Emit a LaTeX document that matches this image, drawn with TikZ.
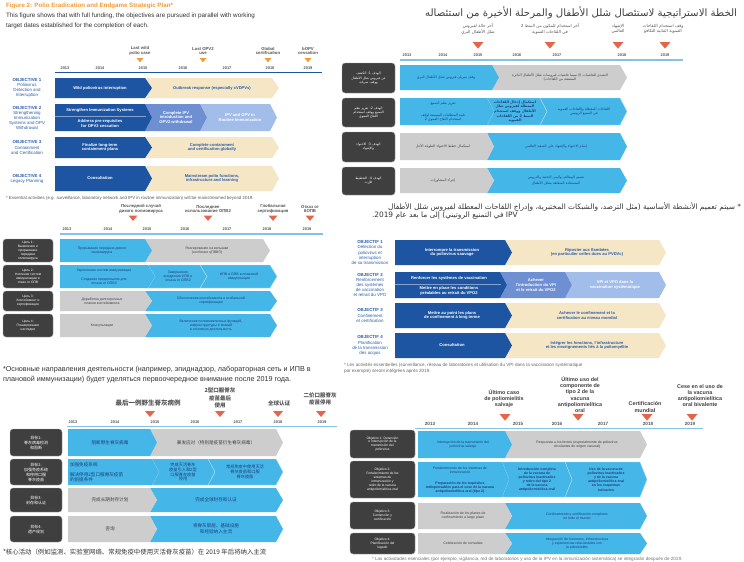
\documentclass[tikz,border=0pt]{standalone}
\usepackage{fontspec}
\setmainfont{Liberation Sans}
\newfontfamily\arabicfont[Script=Arabic]{DejaVu Sans}
\newfontfamily\cjk{Noto Sans CJK SC}
\TeXXeTstate=1
\newcommand\artx[1]{{\arabicfont\beginR #1\endR}}
\definecolor{darkB}{HTML}{1D55A3}
\definecolor{midB}{HTML}{6E90D2}
\definecolor{lightB}{HTML}{A3BDEA}
\definecolor{beige}{HTML}{F5E7C6}
\definecolor{cyanB}{HTML}{45B6E8}
\definecolor{greyB}{HTML}{CDCDCD}
\definecolor{boxD}{HTML}{3F3F3F}
\definecolor{orangeT}{HTML}{F29A35}
\definecolor{redT}{HTML}{E6644A}
\definecolor{txtB}{HTML}{2B5CA8}
\definecolor{lineB}{HTML}{86C1E8}
\definecolor{navyT}{HTML}{1E3F78}
\definecolor{greyT}{HTML}{555555}
\newcommand\tipd{7}
\newcommand\segA[5]{\fill[#5] (#1,#3) -- (#2,#3) -- ({#2+\tipd},{(#3+#4)/2}) -- (#2,#4) -- (#1,#4) -- cycle;}
\newcommand\segB[5]{\fill[#5] (#1,#3) -- (#2,#3) -- ({#2+\tipd},{(#3+#4)/2}) -- (#2,#4) -- (#1,#4) -- ({#1+\tipd},{(#3+#4)/2}) -- cycle;}
\newcommand\tri[4]{\fill[#4] ({#1-#3/2},#2) -- ({#1+#3/2},#2) -- (#1,{#2+#3*0.6}) -- cycle;}
\tikzset{
 every node/.style={inner sep=0pt, outer sep=0pt},
 ms/.style={align=center, font=\fontsize{4.3}{4.9}\selectfont\bfseries, text=greyT},
 yr/.style={font=\fontsize{3.9}{4}\selectfont\bfseries, text=greyT},
 wt/.style={align=center, text=white, font=\fontsize{4.1}{4.8}\selectfont\bfseries},
 bt/.style={align=center, text=txtB, font=\fontsize{4.1}{4.8}\selectfont\bfseries},
 nt/.style={align=center, text=navyT, font=\fontsize{3.5}{4.1}\selectfont},
 gt/.style={align=center, text=black!75, font=\fontsize{3.5}{4.1}\selectfont},
 lbl/.style={align=center, text=txtB, font=\fontsize{4.4}{5.1}\selectfont},
 bx/.style={fill=boxD, draw=black!35, line width=0.4, rounded corners=3},
 bxt/.style={align=center, text=white, font=\fontsize{3.3}{3.9}\selectfont},
 sepl/.style={line width=0.4},
}
\begin{document}
\begin{tikzpicture}[x=1pt,y=-1pt]
\useasboundingbox (0,0) rectangle (744,562);
\fill[white] (0,0) rectangle (744,562);

%================ ENGLISH (top left) ================
\begin{scope}
\clip (0,0) rectangle (338,202);
\node[anchor=west, text=orangeT, font=\fontsize{6.2}{7}\selectfont\bfseries] (en-title) at (6,6) {Figure 2: Polio Eradication and Endgame Strategic Plan*};
\node[anchor=north west, align=left, font=\fontsize{6.3}{9.5}\selectfont, text=black!80] (en-desc) at (6,13) {This figure shows that with full funding, the objectives are pursued in parallel with working\\target dates established for the completion of each.};
\node[ms] (en-m1) at (140,51) {Last wild\\polio case};
\node[ms] (en-m2) at (203,51) {Last OPV2\\use};
\node[ms] (en-m3) at (268,51) {Global\\certification};
\node[ms] (en-m4) at (308,51) {bOPV\\cessation};
\tri{140}{58}{7}{orangeT}
\tri{203}{58}{7}{orangeT}
\tri{268}{58}{7}{orangeT}
\tri{308}{58}{7}{orangeT}
\foreach \xx/\yy in {65/2013,100/2014,143/2015,183/2016,227/2017,270/2018,308/2019}
  \node[yr] (en-y\yy) at (\xx,68) {\yy};
\draw[darkB, line width=0.8] (55,72.5) -- (322,72.5);
% row 1
\segB{145}{272}{78}{98}{beige}
\segA{55}{145}{78}{98}{darkB}
\node[lbl] (en-l1) at (27,88) {\textbf{OBJECTIVE 1}\\Poliovirus\\Detection and\\Interruption};
\node[wt] (en-r1a) at (100,88) {Wild poliovirus interruption};
\node[bt] (en-r1b) at (212,88) {Outbreak response (especially cVDPVs)};
% row 2
\segB{200}{270}{104}{131}{lightB}
\segB{145}{200}{104}{131}{midB}
\segA{55}{145}{104}{131}{darkB}
\draw[sepl, white!45!darkB] (55,116.5) -- (146,116.5);
\node[lbl] (en-l2) at (27,118) {\textbf{OBJECTIVE 2}\\Strengthening\\Immunization\\Systems and OPV\\Withdrawal};
\node[wt] (en-r2a) at (100,110.5) {Strengthen Immunization Systems};
\node[wt] (en-r2b) at (100,123.8) {Address pre-requisites\\for OPV2 cessation};
\node[wt] (en-r2c) at (176,117.5) {Complete IPV\\introduction and\\OPV2 withdrawal};
\node[wt] (en-r2d) at (240,117.5) {IPV and OPV in\\Routine Immunization};
% row 3
\segB{145}{272}{137}{158}{beige}
\segA{55}{145}{137}{158}{darkB}
\node[lbl] (en-l3) at (27,147.5) {\textbf{OBJECTIVE 3}\\Containment\\and Certification};
\node[wt] (en-r3a) at (100,147.5) {Finalize long-term\\containment plans};
\node[bt] (en-r3b) at (212,147.5) {Complete containment\\and certification globally};
% row 4
\segB{145}{272}{166}{191}{beige}
\segA{55}{145}{166}{191}{darkB}
\node[lbl] (en-l4) at (27,178.5) {\textbf{OBJECTIVE 4}\\Legacy Planning};
\node[wt] (en-r4a) at (100,178.5) {Consultation};
\node[bt] (en-r4b) at (212,178.5) {Mainstream polio functions,\\infrastructure and learning};
\node[anchor=west, font=\fontsize{4.4}{5}\selectfont, text=black!65] (en-foot) at (6,198) {* Essential activities (e.g. surveillance, laboratory network and IPV in routine immunization) will be mainstreamed beyond 2019.};
\end{scope}

%================ ARABIC (top right) ================
\begin{scope}
\clip (338,0) rectangle (744,221);
\node[anchor=east, font=\fontsize{10.2}{11}\selectfont, text=black!75] (ar-title) at (737,13) {\artx{الخطة الاستراتيجية لاستئصال شلل الأطفال والمرحلة الأخيرة من استئصاله}};
\node[ms, font=\fontsize{4.2}{5.2}\selectfont] (ar-m1) at (478,29) {\artx{آخر حالة لفيروس}\\\artx{شلل الأطفال البري}};
\node[ms, font=\fontsize{4.2}{5.2}\selectfont] (ar-m2) at (550,29) {\artx{آخر استخدام للمكون من النمط 2}\\\artx{في اللقاحات الفموية}};
\node[ms, font=\fontsize{4.2}{5.2}\selectfont] (ar-m3) at (618,29) {\artx{الإشهاد}\\\artx{العالمي}};
\node[ms, font=\fontsize{4.2}{5.2}\selectfont] (ar-m4) at (663,29) {\artx{وقف استخدام اللقاحات}\\\artx{الفموية الثنائية التكافؤ}};
\tri{478}{42}{11}{redT}
\tri{550}{42}{11}{redT}
\tri{618}{42}{11}{redT}
\tri{665}{42}{11}{redT}
\foreach \xx/\yy in {407/2013,443/2014,478/2015,517/2016,557/2017,622/2018,665/2019}
  \node[yr] (ar-y\yy) at (\xx,55) {\yy};
\draw[lineB, line width=1.5] (400,60) -- (683,60);
% boxes
\fill[bx] (342,63) rectangle (395,93);
\fill[bx] (342,98) rectangle (395,127);
\fill[bx] (342,132) rectangle (395,162);
\fill[bx] (342,167) rectangle (395,195);
\node[bxt] (ar-l1) at (368.5,78) {\artx{الهدف 1: الكشف}\\\artx{عن فيروس شلل الأطفال}\\\artx{ووقف سريانه}};
\node[bxt] (ar-l2) at (368.5,112.5) {\artx{الهدف 2: تعزيز نظم}\\\artx{التمنيع ووقف استخدام}\\\artx{اللقاح الفموي}};
\node[bxt] (ar-l3) at (368.5,147) {\artx{الهدف 3: الاحتواء}\\\artx{والإشهاد}};
\node[bxt] (ar-l4) at (368.5,181) {\artx{الهدف 4: التخطيط}\\\artx{للإرث}};
% row 1
\segB{492}{620}{65}{90}{greyB}
\segA{400}{492}{65}{90}{cyanB}
\node[nt] (ar-r1a) at (446,77.5) {\artx{وقف سريان فيروس شلل الأطفال البري}};
\node[gt] (ar-r1b) at (560,77.5) {\artx{التصدي للفاشيات (لا سيما فاشيات فيروسات شلل الأطفال الدائرة}\\\artx{المشتقة من اللقاحات)}};
% row 2
\segB{540}{620}{98}{125}{cyanB, draw=white!55!cyanB, sepl}
\segB{487}{540}{98}{125}{cyanB, draw=white!55!cyanB, sepl}
\segA{400}{487}{98}{125}{cyanB}
\node[nt] (ar-r2a) at (443,104) {\artx{تعزيز نظم التمنيع}};
\node[nt] (ar-r2b) at (443,118) {\artx{تلبية المتطلبات المسبقة لوقف}\\\artx{استخدام اللقاح الفموي 2}};
\node[nt, font=\fontsize{3.5}{4.1}\selectfont\bfseries] (ar-r2c) at (515,111.5) {\artx{استكمال إدخال اللقاحات}\\\artx{المعطلة لفيروس شلل}\\\artx{الأطفال ووقف استخدام}\\\artx{النمط 2 من اللقاحات}\\\artx{الفموية}};
\node[nt] (ar-r2d) at (584,111.5) {\artx{اللقاحات المعطلة واللقاحات الفموية}\\\artx{في التمنيع الروتيني}};
% row 3
\segB{487}{620}{133}{160}{cyanB}
\segA{400}{487}{133}{160}{greyB}
\node[gt] (ar-r3a) at (443,146.5) {\artx{استكمال خطط الاحتواء الطويلة الأجل}};
\node[nt] (ar-r3b) at (556,146.5) {\artx{إتمام الاحتواء والإشهاد على الصعيد العالمي}};
% row 4
\segB{487}{620}{168}{193}{cyanB}
\segA{400}{487}{168}{193}{greyB}
\node[gt] (ar-r4a) at (443,180.5) {\artx{إجراء المشاورات}};
\node[nt] (ar-r4b) at (556,180.5) {\artx{تعميم الوظائف والبنى التحتية والدروس}\\\artx{المستفادة المتعلقة بشلل الأطفال}};
\node[anchor=east, font=\fontsize{7.4}{8}\selectfont, text=black!80] (ar-foot1) at (741,207) {\artx{* سيتم تعميم الأنشطة الأساسية (مثل الترصد، والشبكات المختبرية، وإدراج اللقاحات المعطلة لفيروس شلل الأطفال}};
\node[anchor=west, font=\fontsize{7.4}{8}\selectfont, text=black!80] (ar-foot2) at (372,216) {\artx{\beginL IPV\endL{} في التمنيع الروتيني) إلى ما بعد عام 2019.}};
\end{scope}

%================ RUSSIAN (middle left) ================
\begin{scope}
\clip (0,202) rectangle (344,383);
\node[ms] (ru-m1) at (141,209) {Последний случай\\дикого полиовируса};
\node[ms] (ru-m2) at (208,209) {Последнее\\использование ОПВ2};
\node[ms] (ru-m3) at (273,209) {Глобальная\\сертификация};
\node[ms] (ru-m4) at (310,209) {Отказ от\\бОПВ};
\tri{133}{215.5}{9}{redT}
\tri{208}{215.5}{9}{redT}
\tri{273}{215.5}{9}{redT}
\tri{310}{215.5}{9}{redT}
\foreach \xx/\yy in {67/2013,108/2014,147/2015,185/2016,227/2017,267/2018,307/2019}
  \node[yr] (ru-y\yy) at (\xx,229) {\yy};
\draw[lineB, line width=1.2] (60,234) -- (323,234);
\fill[bx] (3,239) rectangle (53,262);
\fill[bx] (3,265) rectangle (53,288);
\fill[bx] (3,291) rectangle (53,311);
\fill[bx] (3,314) rectangle (53,337);
\node[bxt] (ru-l1) at (28,250.5) {Цель 1:\\Выявление и\\прерывание\\передачи\\полиовируса};
\node[bxt] (ru-l2) at (28,276.5) {Цель 2:\\Усиление систем\\иммунизации и\\отказ от ОПВ};
\node[bxt] (ru-l3) at (28,301) {Цель 3:\\Контейнмент и\\сертификация};
\node[bxt] (ru-l4) at (28,325.5) {Цель 4:\\Планирование\\наследия};
% row 1
\segB{145}{263}{239}{262}{greyB}
\segA{60}{145}{239}{262}{cyanB}
\node[nt] (ru-r1a) at (102,250.5) {Прерывание передачи дикого\\полиовируса};
\node[gt] (ru-r1b) at (207,250.5) {Реагирование на вспышки\\(особенно цПВВП)};
% row 2
\segB{200}{270}{265}{288}{cyanB, draw=white!55!cyanB, sepl}
\segB{148}{200}{265}{288}{cyanB, draw=white!55!cyanB, sepl}
\segA{60}{148}{265}{288}{cyanB}
\node[nt] (ru-r2a) at (104,270.5) {Укрепление систем иммунизации};
\node[nt] (ru-r2b) at (104,281.5) {Создание предпосылок для\\отказа от ОПВ2};
\node[nt] (ru-r2c) at (178,276.5) {Завершение\\внедрения ИПВ и\\отказа от ОПВ2};
\node[nt] (ru-r2d) at (239,276.5) {ИПВ и ОПВ в плановой\\иммунизации};
% row 3
\segB{145}{270}{291}{311}{cyanB}
\segA{60}{145}{291}{311}{greyB}
\node[gt] (ru-r3a) at (102,301) {Доработка долгосрочных\\планов контейнмента};
\node[nt] (ru-r3b) at (211,301) {Обеспечение контейнмента и глобальной\\сертификации};
% row 4
\segB{145}{270}{314}{337}{cyanB}
\segA{60}{145}{314}{337}{greyB}
\node[gt] (ru-r4a) at (102,325.5) {Консультации};
\node[nt] (ru-r4b) at (211,325.5) {Включение полиомиелитных функций,\\инфраструктуры и знаний\\в основную деятельность};
\node[anchor=west, font=\fontsize{7.2}{8}\selectfont, text=black!80] (ru-foot1) at (3,370) {*Основные направления деятельности (например, эпиднадзор, лабораторная сеть и ИПВ в};
\node[anchor=west, font=\fontsize{7.2}{8}\selectfont, text=black!80] (ru-foot2) at (3,379.5) {плановой иммунизации) будет уделяться первоочередное внимание после 2019 года.};
\end{scope}

%================ FRENCH (middle right) ================
\begin{scope}
\clip (338,232) rectangle (744,376);
\node[lbl] (fr-l1) at (370,252.5) {\textbf{OBJECTIF 1}\\Détection du\\poliovirus et\\interruption\\de sa transmission};
\node[lbl] (fr-l2) at (370,285) {\textbf{OBJECTIF 2}\\Renforcement\\des systèmes\\de vaccination\\et retrait du VPO};
\node[lbl] (fr-l3) at (370,315.5) {\textbf{OBJECTIF 3}\\Confinement\\et certification};
\node[lbl] (fr-l4) at (370,345.5) {\textbf{OBJECTIF 4}\\Planification\\de la transmission\\des acquis};
% row 1
\segB{505}{659}{240}{265}{beige}
\segA{395}{505}{240}{265}{darkB}
\node[wt] (fr-r1a) at (452,252.5) {Interrompre la transmission\\du poliovirus sauvage};
\node[bt] (fr-r1b) at (587,252.5) {Riposter aux flambées\\(en particulier celles dues au PVDVc)};
% row 2
\segB{565}{659}{272}{298}{lightB}
\segB{500}{565}{272}{298}{midB}
\segA{395}{500}{272}{298}{darkB}
\draw[sepl, white!45!darkB] (395,284) -- (501,284);
\node[wt] (fr-r2a) at (449,278) {Renforcer les systèmes de vaccination};
\node[wt] (fr-r2b) at (449,290.8) {Mettre en place les conditions\\préalables au retrait du VPO2};
\node[wt] (fr-r2c) at (536,285) {Achever\\l'introduction du VPI\\et le retrait du VPO2};
\node[wt] (fr-r2d) at (615,285) {VPI et VPO dans la\\vaccination systématique};
% row 3
\segB{505}{659}{303}{328}{beige}
\segA{395}{505}{303}{328}{darkB}
\node[wt] (fr-r3a) at (452,315.5) {Mettre au point les plans\\de confinement à long terme};
\node[bt] (fr-r3b) at (587,315.5) {Achever le confinement et la\\certification au niveau mondial};
% row 4
\segB{505}{659}{333}{358}{beige}
\segA{395}{505}{333}{358}{darkB}
\node[wt] (fr-r4a) at (452,345.5) {Consultation};
\node[bt] (fr-r4b) at (587,345.5) {Intégrer les fonctions, l'infrastructure\\et les enseignements liés à la poliomyélite};
\node[anchor=west, font=\fontsize{4.6}{5}\selectfont, text=black!60] (fr-foot1) at (344,365) {* Les activités essentielles (surveillance, réseau de laboratoires et utilisation du VPI dans la vaccination systématique};
\node[anchor=west, font=\fontsize{4.6}{5}\selectfont, text=black!60] (fr-foot2) at (344,371.5) {par exemple) seront intégrées après 2019.};
\end{scope}

%================ CHINESE (bottom left) ================
\begin{scope}
\clip (0,383) rectangle (348,562);
\node[ms, font=\cjk\fontsize{6.5}{7}\selectfont\bfseries] (zh-m1) at (148,403) {最后一例野生脊灰病例};
\node[ms, font=\cjk\fontsize{5.5}{7.2}\selectfont\bfseries] (zh-m2) at (220,398) {2型口服脊灰\\疫苗最后\\使用};
\node[ms, font=\cjk\fontsize{5.5}{7}\selectfont\bfseries] (zh-m3) at (279,403) {全球认证};
\node[ms, font=\cjk\fontsize{5.5}{7}\selectfont\bfseries] (zh-m4) at (320,399) {二价口服脊灰\\疫苗停用};
\tri{150}{411}{10}{redT}
\tri{220}{411}{10}{redT}
\tri{278}{411}{10}{redT}
\tri{321}{411}{10}{redT}
\foreach \xx/\yy in {73/2013,115/2014,155/2015,195/2016,238/2017,278/2018,322/2019}
  \node[yr] (zh-y\yy) at (\xx,422) {\yy};
\draw[lineB, line width=1.3] (67,426.5) -- (337,426.5);
\fill[bx] (10,429) rectangle (62,456);
\fill[bx] (10,459) rectangle (62,485);
\fill[bx] (10,488) rectangle (62,512);
\fill[bx] (10,516) rectangle (62,542);
\node[bxt, font=\cjk\fontsize{4}{5}\selectfont] (zh-l1) at (36,442.5) {目标1:\\脊灰病毒检测\\和阻断};
\node[bxt, font=\cjk\fontsize{4}{5}\selectfont] (zh-l2) at (36,472) {目标2:\\加强免疫系统\\和停用口服\\脊灰疫苗};
\node[bxt, font=\cjk\fontsize{4}{5}\selectfont] (zh-l3) at (36,500) {目标3:\\封存和认证};
\node[bxt, font=\cjk\fontsize{4}{5}\selectfont] (zh-l4) at (36,529) {目标4:\\遗产规划};
% row 1
\segB{150}{276}{429}{456}{greyB}
\segA{68}{150}{429}{456}{cyanB}
\node[nt, font=\cjk\fontsize{4.6}{5.4}\selectfont] (zh-r1a) at (110,442.5) {阻断野生脊灰病毒};
\node[gt, font=\cjk\fontsize{4.6}{5.4}\selectfont] (zh-r1b) at (216,442.5) {暴发应对（特别是疫苗衍生脊灰病毒）};
% row 2
\segB{208}{276}{459}{485}{cyanB, draw=white!55!cyanB, sepl}
\segB{152}{208}{459}{485}{cyanB, draw=white!55!cyanB, sepl}
\segA{68}{152}{459}{485}{cyanB}
\node[nt, anchor=west, font=\cjk\fontsize{4.6}{5.4}\selectfont] (zh-r2a) at (70,465) {加强免疫系统};
\node[nt, anchor=west, align=left, font=\cjk\fontsize{4.6}{5.4}\selectfont] (zh-r2b) at (70,477) {解决停用2型口服脊灰疫苗\\的前提条件};
\node[nt, font=\cjk\fontsize{4.2}{4.9}\selectfont] (zh-r2c) at (183,472) {完成灭活脊灰\\疫苗引入和2型\\口服脊灰疫苗\\停用};
\node[nt, font=\cjk\fontsize{4.2}{4.9}\selectfont] (zh-r2d) at (245,472) {常规免疫中使用灭活\\脊灰疫苗和口服\\脊灰疫苗};
% row 3
\segB{150}{276}{488}{512}{cyanB}
\segA{68}{150}{488}{512}{greyB}
\node[gt, font=\cjk\fontsize{4.6}{5.4}\selectfont] (zh-r3a) at (110,500) {完成长期封存计划};
\node[nt, font=\cjk\fontsize{4.6}{5.4}\selectfont] (zh-r3b) at (216,500) {完成全球封存和认证};
% row 4
\segB{150}{276}{516}{542}{cyanB}
\segA{68}{150}{516}{542}{greyB}
\node[gt, font=\cjk\fontsize{4.6}{5.4}\selectfont] (zh-r4a) at (110,529) {咨询};
\node[nt, font=\cjk\fontsize{4.6}{5.6}\selectfont] (zh-r4b) at (216,529) {将脊灰职能、基础设施\\和经验纳入主流};
\node[anchor=west, font=\cjk\fontsize{6.4}{7}\selectfont, text=black!80] (zh-foot) at (3,552) {*核心活动（例如监测、实验室网络、常规免疫中使用灭活脊灰疫苗）在 2019 年后将纳入主流};
\end{scope}

%================ SPANISH (bottom right) ================
\begin{scope}
\clip (348,376) rectangle (744,562);
\node[ms, font=\fontsize{5.4}{6.3}\selectfont\bfseries, text=black!75] (es-m1) at (504,398.5) {Último caso\\de poliomielitis\\salvaje};
\node[ms, font=\fontsize{5.4}{6.3}\selectfont\bfseries, text=black!75] (es-m2) at (580,394.5) {Último uso del\\componente de\\tipo 2 de la\\vacuna\\antipoliomielítica\\oral};
\node[ms, font=\fontsize{5.4}{6.3}\selectfont\bfseries, text=black!75] (es-m3) at (645,407) {Certificación\\mundial};
\node[ms, font=\fontsize{5.4}{6.0}\selectfont\bfseries, text=black!75] (es-m4) at (700,395.5) {Cese en el uso de\\la vacuna\\antipoliomielítica\\oral bivalente};
\tri{505}{414}{11}{redT}
\tri{578}{414}{11}{redT}
\tri{647}{414}{11}{redT}
\tri{692}{414}{11}{redT}
\foreach \xx/\yy in {430/2013,473/2014,518/2015,557/2016,603/2017,648/2018,690/2019}
  \node[yr, font=\fontsize{4.6}{5}\selectfont\bfseries] (es-y\yy) at (\xx,424) {\yy};
\draw[lineB, line width=1.6] (415,428.5) -- (703,428.5);
\fill[bx] (350,430) rectangle (415,458);
\fill[bx] (350,461) rectangle (415,498);
\fill[bx] (350,502) rectangle (415,529);
\fill[bx] (350,533) rectangle (415,554);
\node[bxt] (es-l1) at (382.5,444) {Objetivo 1: Detección\\e interrupción de la\\transmisión del\\poliovirus};
\node[bxt] (es-l2) at (382.5,479.5) {Objetivo 2:\\Fortalecimiento de los\\sistemas de\\inmunización y\\retiro de la vacuna\\antipoliomielítica oral};
\node[bxt] (es-l3) at (382.5,515.5) {Objetivo 3:\\Contención y\\certificación};
\node[bxt] (es-l4) at (382.5,543.5) {Objetivo 4:\\Planificación del\\legado};
% row 1
\segB{505}{640}{431}{458}{greyB}
\segA{418}{505}{431}{458}{cyanB}
\node[nt] (es-r1a) at (463,444.5) {Interrupción de la transmisión del\\poliovirus salvaje};
\node[gt] (es-r1b) at (577,444.5) {Respuesta a los brotes (especialmente de poliovirus\\circulantes de origen vacunal)};
% row 2
\segB{565}{640}{462}{497}{cyanB, draw=white!55!cyanB, sepl}
\segB{502}{565}{462}{497}{cyanB, draw=white!55!cyanB, sepl}
\segA{418}{502}{462}{497}{cyanB}
\node[nt] (es-r2a) at (460,470) {Fortalecimiento de los sistemas de\\inmunización};
\node[nt, font=\fontsize{3.5}{4.1}\selectfont\bfseries] (es-r2b) at (460,487.5) {Preparación de los requisitos\\indispensables para el cese de la vacuna\\antipoliomielítica oral (tipo 2)};
\node[nt, font=\fontsize{3.5}{4.1}\selectfont\bfseries] (es-r2c) at (537,479.5) {Introducción completa\\de la vacuna de\\poliovirus inactivados\\y retiro del tipo 2\\de la vacuna\\antipoliomielítica oral};
\node[nt, font=\fontsize{3.5}{4.1}\selectfont\bfseries] (es-r2d) at (606,479.5) {Uso de la vacuna de\\poliovirus inactivados\\y de la vacuna\\antipoliomielítica oral\\en los esquemas\\rutinarios};
% row 3
\segB{505}{640}{503}{529}{cyanB}
\segA{418}{505}{503}{529}{greyB}
\node[gt] (es-r3a) at (463,516) {Finalización de los planes de\\confinamiento a largo plazo};
\node[nt] (es-r3b) at (577,516) {Confinamiento y certificación completos\\en todo el mundo};
% row 4
\segB{505}{640}{533}{554}{cyanB}
\segA{418}{505}{533}{554}{greyB}
\node[gt] (es-r4a) at (463,543.5) {Celebración de consultas};
\node[nt] (es-r4b) at (577,543.5) {Integración de funciones, infraestructura\\y experiencias relacionadas con\\la poliomielitis};
\node[anchor=west, font=\fontsize{4.6}{5}\selectfont, text=black!55] (es-foot) at (372,559.5) {* Las actividades esenciales (por ejemplo, vigilancia, red de laboratorios y uso de la IPV en la inmunización sistemática) se integrarán después de 2019.};
\end{scope}
\end{tikzpicture}
\end{document}
